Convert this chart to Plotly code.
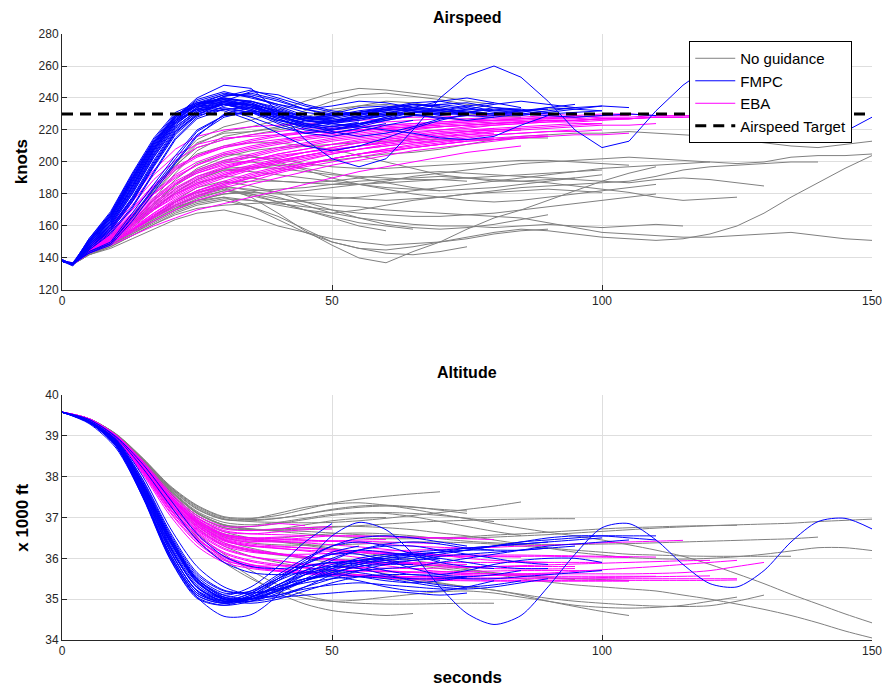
import plotly.graph_objects as go

# ---------------------------------------------------------------------------
# Time grids (seconds)
# ---------------------------------------------------------------------------
T_SPEED = [0, 2, 5, 9, 13, 17, 21, 25, 30, 35, 40, 45, 50, 55, 60, 65, 70, 75,
           80, 85, 90, 95, 100, 105, 110, 115, 120, 125, 130, 135, 140, 145, 150]
T_ALT = [0, 5, 10, 15, 20, 25, 30, 35, 40, 45, 50, 55, 60, 65, 70, 75, 80, 85,
         90, 95, 100, 105, 110, 115, 120, 125, 130, 135, 140, 145, 150]

AIRSPEED_TARGET = 230  # knots
TARGET_SPAN = [0, 150]

# ---------------------------------------------------------------------------
# Airspeed runs (knots), sampled on T_SPEED; each run stops where its list ends
# ---------------------------------------------------------------------------
speed_none = [
    [138, 136, 145, 153, 166, 183, 200, 214, 222, 226, 232, 238, 243, 246, 245, 243, 241, 238, 236],
    [138, 136, 145, 152, 164, 180, 197, 211, 219, 222, 226, 232, 238, 242, 243, 241, 239, 236, 234, 232, 233, 234],
    [138, 136, 144, 151, 162, 177, 193, 207, 216, 219, 221, 226, 231, 235, 238, 237, 234, 231, 229, 228],
    [138, 136, 143, 149, 157, 166, 175, 181, 184, 178, 168, 157, 148, 140, 137, 144, 150, 158, 165, 170, 176, 182, 188, 193, 197],
    [138, 136, 143, 150, 158, 166, 173, 178, 182, 180, 177, 175, 173, 172, 170, 169, 168, 167, 166, 165, 162, 159, 156, 155, 154, 153, 153, 154, 155, 156, 154, 152, 151],
    [138, 136, 143, 149, 157, 165, 172, 176, 178, 172, 164, 156, 150, 146, 145, 147, 150, 153, 156, 158, 157, 155, 153, 152, 151, 152, 155, 160, 168, 178, 187, 196, 204],
    [138, 136, 144, 151, 160, 171, 181, 189, 195, 196, 198, 199, 201, 203, 205, 206, 208, 211, 214, 216, 217, 218, 218, 219, 218, 217, 216, 214, 212, 210, 209, 211, 213],
    [138, 136, 143, 149, 157, 165, 173, 179, 184, 183, 181, 182, 184, 186, 188, 191, 193, 195, 197, 199, 200, 201, 202, 203, 202, 201, 200, 199, 200, 203, 204, 204, 205],
    [138, 136, 143, 148, 155, 163, 170, 175, 178, 176, 173, 170, 168, 170, 173, 176, 178, 180, 182, 184, 185, 186, 187, 188, 191, 195, 197, 198, 199, 200, 200],
    [138, 136, 144, 151, 161, 171, 180, 187, 191, 190, 188, 187, 188, 190, 192, 193, 194, 193, 192, 191, 190, 189, 188, 187, 189, 190, 189, 187, 185],
    [138, 136, 143, 149, 156, 164, 171, 176, 180, 182, 183, 184, 186, 188, 189, 190, 191, 190, 189, 188, 187, 185, 183, 181, 178, 176, 177, 178],
    [138, 136, 144, 152, 162, 174, 186, 195, 201, 203, 202, 199, 197, 196, 196, 197, 198, 199, 200, 201, 201, 200, 199, 198],
    [138, 136, 143, 149, 157, 166, 176, 184, 188, 185, 181, 175, 170, 165, 161, 159, 158, 159, 161, 164, 167],
    [138, 136, 142, 147, 154, 161, 168, 173, 176, 172, 166, 158, 150, 146, 143, 142, 144, 147],
    [138, 136, 143, 149, 156, 163, 170, 176, 180, 181, 180, 179, 178, 177, 176, 177, 178, 180, 181, 182, 183, 182, 181],
    [138, 136, 142, 147, 154, 161, 167, 171, 173, 174, 175, 176, 177, 178, 180, 182, 184, 186, 188, 190, 192, 194, 196, 197, 198, 199, 200],
    [138, 136, 144, 152, 163, 176, 189, 199, 205, 204, 200, 195, 190, 186, 183, 180, 178, 176, 175, 176, 178, 180, 182, 184, 186],
    [138, 136, 145, 153, 165, 180, 195, 205, 210, 212, 212, 210, 208, 204, 200, 196, 192, 190, 188, 188, 189, 190],
    [138, 136, 144, 151, 161, 173, 185, 194, 200, 200, 198, 196, 193, 190, 187, 184, 182],
    [138, 136, 142, 146, 152, 158, 164, 168, 170, 166, 160, 156, 152, 150, 148, 149, 150, 152, 155, 157, 158],
    [138, 136, 143, 149, 157, 166, 175, 181, 185, 182, 178, 173, 168, 165, 163, 161, 160, 160, 159, 160, 161, 160, 159, 160, 161, 160],
    [138, 136, 145, 154, 166, 182, 198, 209, 214, 217, 220, 223, 226, 228, 230, 230, 228, 226, 224],
    [138, 136, 143, 150, 159, 170, 181, 189, 195, 194, 192, 190, 188, 186, 184, 183, 182, 183, 184, 186, 188, 190, 192],
    [138, 136, 142, 148, 156, 164, 171, 177, 182, 179, 175, 170, 166, 162, 160, 158],
    [138, 136, 145, 154, 167, 183, 199, 212, 218, 219, 222, 228, 233, 235, 236, 234, 232, 230, 229, 228],
    [138, 136, 144, 151, 161, 172, 183, 191, 196, 197, 196, 194, 192, 191, 190, 189, 189, 188],
    [138, 136, 143, 149, 157, 166, 175, 182, 187, 188, 188, 187, 186, 186, 187, 188, 189, 190, 191, 192, 193, 194, 195],
    [138, 136, 143, 149, 157, 165, 173, 179, 183, 180, 175, 170, 165, 160, 157],
    [138, 136, 144, 152, 162, 174, 186, 196, 203, 207, 209, 210, 211, 212, 213, 214, 214, 214, 214, 215, 215],
    [138, 136, 143, 148, 155, 162, 169, 174, 177, 176, 174, 172, 170, 168, 167, 166, 166, 167, 168, 170, 172, 174, 176, 178, 180],
]

speed_fmpc = [
    [138, 136, 150, 166, 190, 212, 228, 240, 248, 246, 232, 214, 202, 197, 202, 220, 240, 254, 260, 253, 238, 220, 209, 213, 232, 248, 260, 258, 246, 232, 222, 219, 228],
    [138, 136, 152, 169, 193, 215, 231, 237, 240, 237, 231, 227, 230, 234, 235, 232, 229, 231, 234, 233, 231],
    [138, 137, 151, 167, 190, 212, 229, 238, 243, 241, 235, 229, 226, 229, 233, 236, 234, 231, 229, 232, 234, 233, 235],
    [139, 136, 149, 164, 187, 209, 227, 235, 236, 232, 226, 222, 225, 228, 231, 230, 227, 229],
    [138, 136, 148, 162, 183, 206, 225, 233, 238, 236, 229, 224, 220, 223, 228, 233, 236, 237, 234, 232],
    [138, 135, 147, 160, 180, 203, 222, 232, 236, 233, 227, 221, 218, 221, 224],
    [139, 136, 146, 158, 176, 198, 219, 230, 234, 231, 224, 218, 216, 219, 223, 226],
    [138, 136, 145, 156, 172, 194, 215, 228, 235, 238, 234, 228, 225, 227, 230, 232, 231, 229, 228, 230, 229, 228, 229, 230, 229],
    [138, 136, 148, 163, 185, 208, 226, 236, 240, 238, 232, 226, 224, 222, 220, 218, 215, 214, 216, 223, 229],
    [138, 136, 151, 166, 188, 210, 228, 239, 244, 240, 236, 233, 235, 238, 237, 234, 232, 235, 237],
    [138, 136, 149, 165, 189, 211, 228, 236, 238, 234, 228, 223, 219, 216, 218, 222, 227],
    [138, 136, 143, 149, 165, 183, 200, 217, 228, 232, 230, 227, 229, 231],
    [138, 137, 143, 148, 163, 181, 199, 216, 230, 234, 231, 226, 224, 226, 229, 231, 230],
    [139, 136, 147, 161, 181, 204, 223, 234, 241, 243, 239, 233, 229, 231, 234, 237, 238, 235, 232, 231, 234, 236],
    [138, 136, 150, 165, 187, 209, 226, 233, 232, 226, 218, 210, 207, 210, 215, 221, 226, 230],
    [138, 136, 146, 159, 178, 201, 221, 231, 237, 236, 231, 227, 229, 232, 234, 233, 231, 233, 236, 238, 236, 234, 235, 234],
    [138, 136, 150, 167, 191, 213, 229, 237, 239, 235, 230, 226, 228, 231, 233, 232],
    [138, 136, 148, 161, 182, 205, 224, 233, 236, 232, 225, 220, 218, 221],
    [138, 136, 152, 168, 192, 214, 230, 235, 233, 228, 222, 218, 220, 224, 227, 229, 228, 226, 228],
    [138, 136, 147, 159, 177, 199, 219, 229, 233, 231, 226, 223, 225, 229, 232],
    [138, 136, 144, 150, 168, 186, 204, 220, 229, 231, 228, 225, 226],
    [138, 136, 149, 163, 184, 207, 225, 234, 241, 245, 240, 235, 231, 228, 230, 234, 238, 240, 237, 234],
    [138, 136, 151, 167, 190, 212, 228, 236, 239, 236, 229, 223, 221, 223, 227, 231, 233, 232, 230, 229, 231, 233, 232],
    [138, 136, 146, 157, 175, 197, 217, 229, 238, 244, 242, 236, 232, 230, 233, 236, 235],
    [138, 136, 150, 165, 188, 210, 227, 236, 240, 237, 231, 226, 224, 227, 229],
    [138, 136, 149, 164, 186, 208, 226, 235, 239, 238, 233, 228, 226, 228, 231, 233, 232, 230],
    [138, 136, 147, 161, 182, 205, 224, 233, 237, 235, 230, 226, 227, 230, 232, 234, 233, 231, 230, 232, 233],
    [138, 136, 146, 158, 177, 200, 220, 231, 236, 236, 232, 228, 228, 231, 233, 232, 230, 231, 233, 232, 230, 231, 232],
    [138, 136, 148, 162, 184, 207, 225, 234, 238, 235, 229, 224, 222, 225],
    [138, 136, 150, 166, 189, 211, 228, 237, 242, 241, 236, 231, 229, 231, 234, 236, 235, 233, 232, 233],
    [138, 136, 145, 155, 171, 193, 214, 227, 233, 234, 230, 226, 223, 224, 226, 229, 230],
    [138, 136, 151, 168, 192, 213, 229, 236, 237, 233, 227, 222, 220, 222, 226, 229],
    [138, 136, 149, 163, 185, 208, 226, 236, 242, 242, 238, 233, 230, 230, 232, 235, 236, 234, 231, 230, 232, 234],
    [138, 136, 147, 160, 180, 203, 222, 232, 236, 234, 229, 224, 222, 224, 228, 231, 232, 231, 230],
    [138, 136, 146, 157, 175, 198, 218, 230, 236, 236, 232, 228, 227],
    [138, 136, 144, 149, 166, 184, 202, 219, 229, 232, 229, 226, 225, 227, 229],
]

speed_eba = [
    [138, 136, 148, 160, 177, 195, 208, 216, 220, 222, 223, 224, 225, 226, 227, 228, 228, 229, 229, 230, 230, 229, 230, 230, 229],
    [138, 136, 147, 158, 173, 189, 201, 209, 214, 217, 219, 221, 222, 224, 225, 226, 227, 227, 228, 228, 229, 228, 229],
    [138, 137, 146, 156, 170, 184, 195, 203, 209, 213, 216, 218, 220, 222, 223, 224, 225, 226, 226, 227, 227, 228],
    [138, 136, 146, 155, 167, 180, 190, 198, 205, 209, 212, 215, 217, 219, 221, 222, 224, 225, 226, 227, 228, 228, 229, 229],
    [138, 136, 145, 154, 165, 177, 187, 194, 200, 204, 208, 211, 214, 216, 218, 220, 222, 223, 224, 225, 226],
    [138, 136, 145, 153, 163, 174, 183, 190, 196, 201, 205, 208, 211, 214, 216, 218, 220, 221, 223, 224, 225, 226, 227, 227, 228, 228],
    [138, 137, 145, 152, 162, 172, 181, 188, 194, 198, 202, 206, 209, 212, 214, 216, 218, 219, 220, 221],
    [138, 136, 144, 151, 160, 170, 178, 185, 191, 196, 200, 204, 207, 210, 213, 215, 217, 219, 220, 221, 222, 223, 224],
    [138, 136, 144, 151, 159, 168, 176, 182, 188, 193, 197, 201, 205, 208, 211, 213, 215, 217, 218],
    [138, 136, 144, 150, 158, 166, 173, 179, 185, 190, 194, 198, 202, 205, 208, 211, 213, 215, 217, 218, 219, 220],
    [138, 136, 143, 149, 157, 165, 172, 178, 184, 188, 193, 197, 200, 203, 206, 209, 211, 213],
    [138, 136, 143, 149, 156, 163, 170, 176, 181, 186, 190, 194, 198, 201, 204, 207, 209, 211, 213, 215, 216],
    [138, 136, 143, 148, 154, 160, 165, 170, 174, 178, 182, 186, 190, 194, 197, 200, 203, 206, 208, 210],
    [138, 136, 146, 157, 171, 186, 197, 204, 209, 212, 214, 216, 218, 220, 221, 222, 223, 224, 225, 225, 226, 226, 227, 227, 228, 228, 229],
    [138, 136, 145, 154, 166, 178, 188, 195, 201, 205, 209, 212, 215, 217, 219, 221, 222, 223, 224, 225, 226, 226, 227, 227, 228],
    [138, 136, 147, 159, 175, 192, 204, 211, 215, 216, 217, 218, 219, 220, 221, 222, 223],
    [138, 136, 144, 152, 162, 173, 182, 189, 196, 200, 203, 206, 209, 212, 214, 216, 218, 219, 221],
    [138, 136, 144, 150, 158, 168, 177, 184, 190, 195, 199, 202, 205, 208, 210, 212, 214, 216, 217, 218, 219, 219, 220],
    [138, 136, 143, 149, 157, 167, 175, 182, 187, 192, 196, 199, 202, 205, 207, 209, 211, 213, 214, 215, 216, 217, 217, 218],
    [138, 136, 146, 156, 168, 181, 192, 200, 206, 210, 213, 216, 218, 220, 222, 223, 224, 225, 226, 226, 227, 227, 228, 228, 229, 229, 229, 230],
    [138, 136, 144, 151, 161, 171, 180, 186, 192, 196, 200, 203, 206, 208, 210, 212, 213, 214, 215, 216, 217],
    [138, 136, 145, 153, 164, 176, 186, 193, 198, 201, 204, 206, 208, 210, 212],
    [138, 136, 146, 156, 170, 185, 196, 204, 210, 214, 217, 219, 221, 222, 223, 224, 225, 226, 227, 227, 228, 228],
    [138, 136, 145, 154, 164, 176, 186, 193, 199, 203, 207, 210, 213, 215, 217, 219, 220, 222, 223, 224, 225, 225, 226, 227],
    [138, 136, 144, 152, 161, 171, 180, 187, 193, 197, 201, 204, 207, 210, 212, 214, 216, 218, 219, 220],
    [138, 136, 144, 151, 160, 170, 179, 186, 192, 197, 201, 204, 207, 210, 212, 214, 216, 217, 219, 220, 221, 222, 223, 223, 224],
    [138, 136, 143, 149, 157, 166, 174, 180, 186, 190, 194, 198, 202, 205, 208, 210, 212, 214, 215],
    [138, 136, 145, 153, 163, 175, 184, 191, 197, 201, 205, 208, 211, 213, 215, 217, 219, 220, 221, 222, 223, 224, 224],
    [138, 136, 144, 150, 158, 167, 175, 181, 186, 191, 195, 199, 202, 205, 207, 209, 211, 213, 214, 215, 216],
    [138, 136, 145, 155, 167, 180, 191, 198, 204, 208, 211, 214, 216, 218, 220, 221, 222, 223, 224, 225, 226, 226, 227, 227, 228, 228, 228],
]

# ---------------------------------------------------------------------------
# Altitude runs (x 1000 ft), sampled on T_ALT
# ---------------------------------------------------------------------------
alt_none = [
    [39.58, 39.42, 39.05, 38.45, 37.78, 37.30, 37.02, 36.98, 37.05, 37.20, 37.35, 37.45, 37.52, 37.58, 37.63],
    [39.58, 39.42, 39.04, 38.43, 37.75, 37.25, 36.97, 36.90, 36.88, 36.87, 36.88, 36.92, 36.98, 37.05, 37.12, 37.20, 37.28, 37.38],
    [39.58, 39.42, 39.04, 38.42, 37.73, 37.22, 36.95, 36.92, 36.98, 37.08, 37.18, 37.25, 37.28, 37.25, 37.20, 37.16],
    [39.58, 39.42, 39.04, 38.42, 37.72, 37.20, 36.95, 36.97, 37.10, 37.25, 37.33, 37.36, 37.30, 37.20, 37.08, 36.97, 36.85, 36.74, 36.64, 36.55, 36.45, 36.33, 36.20, 36.05, 35.85, 35.62, 35.38, 35.12, 34.88, 34.64, 34.42],
    [39.58, 39.41, 39.00, 38.35, 37.60, 37.00, 36.65, 36.50, 36.42, 36.35, 36.25, 36.15, 36.05, 35.95, 35.85, 35.75, 35.62, 35.50, 35.42, 35.35, 35.30, 35.25, 35.20, 35.10, 35.00, 34.88, 34.75, 34.60, 34.42, 34.22, 34.05],
    [39.58, 39.41, 39.02, 38.38, 37.65, 37.10, 36.80, 36.70, 36.68, 36.66, 36.62, 36.58, 36.55, 36.52, 36.50, 36.50, 36.52, 36.55, 36.58, 36.62, 36.66, 36.70, 36.74, 36.77, 36.80, 36.82, 36.84, 36.86, 36.90, 36.93, 36.96],
    [39.58, 39.41, 39.01, 38.36, 37.62, 37.05, 36.75, 36.70, 36.72, 36.75, 36.78, 36.78, 36.75, 36.70, 36.62, 36.55, 36.45, 36.35, 36.25, 36.15, 36.08, 36.02, 35.99, 35.98, 36.00, 36.04, 36.10, 36.18, 36.26, 36.26, 36.19],
    [39.58, 39.40, 38.98, 38.30, 37.50, 36.88, 36.52, 36.38, 36.33, 36.32, 36.33, 36.35, 36.38, 36.40, 36.40, 36.38, 36.35, 36.30, 36.25, 36.20, 36.15, 36.10, 36.08, 36.06, 36.05, 36.05, 36.05, 36.05],
    [39.58, 39.41, 39.02, 38.40, 37.68, 37.12, 36.82, 36.72, 36.66, 36.60, 36.55, 36.50, 36.48, 36.48, 36.50, 36.53, 36.57, 36.60, 36.64, 36.68, 36.72, 36.75, 36.77, 36.79, 36.80, 36.81],
    [39.58, 39.40, 38.96, 38.25, 37.42, 36.75, 36.30, 36.05, 35.90, 35.78, 35.68, 35.60, 35.52, 35.45, 35.38, 35.30, 35.22, 35.12, 35.02, 34.95, 34.90, 34.86, 34.83, 34.82, 34.84, 34.95, 35.10],
    [39.58, 39.40, 38.97, 38.28, 37.48, 36.85, 36.45, 36.25, 36.12, 36.00, 35.88, 35.75, 35.62, 35.50, 35.40, 35.30, 35.22, 35.10, 34.95, 34.82, 34.70, 34.60],
    [39.58, 39.40, 38.95, 38.22, 37.35, 36.62, 36.10, 35.70, 35.35, 35.10, 34.95, 34.90, 34.88, 34.88, 34.89, 34.90, 34.90],
    [39.58, 39.39, 38.93, 38.18, 37.28, 36.52, 35.98, 35.55, 35.15, 34.88, 34.72, 34.65, 34.60, 34.65],
    [39.58, 39.41, 39.02, 38.40, 37.68, 37.12, 36.82, 36.72, 36.70, 36.72, 36.76, 36.80, 36.84, 36.88, 36.91, 36.93, 36.95, 36.96, 36.97, 36.97],
    [39.58, 39.40, 38.98, 38.30, 37.50, 36.90, 36.55, 36.45, 36.40, 36.32, 36.22, 36.10, 35.98, 35.85, 35.75, 35.68, 35.62, 35.57, 35.53, 35.50, 35.48, 35.46],
    [39.58, 39.41, 39.03, 38.42, 37.70, 37.15, 36.88, 36.82, 36.88, 36.98, 37.08, 37.12, 37.10, 37.02, 36.90, 36.78, 36.66, 36.56],
    [39.58, 39.42, 39.04, 38.44, 37.76, 37.28, 37.00, 36.95, 36.98, 37.08, 37.20, 37.28, 37.30, 37.26, 37.18, 37.10],
    [39.58, 39.39, 38.92, 38.15, 37.22, 36.45, 35.90, 35.50, 35.20, 35.02, 34.95, 34.98, 35.05, 35.12, 35.18, 35.20, 35.15, 35.05, 34.95, 34.85, 34.80, 34.78, 34.80, 34.85, 34.95, 35.05],
    [39.58, 39.41, 39.00, 38.34, 37.56, 36.95, 36.60, 36.50, 36.50, 36.55, 36.60, 36.62, 36.60, 36.55, 36.48, 36.42, 36.38, 36.35, 36.34, 36.34, 36.35, 36.36, 36.38, 36.40, 36.42, 36.44, 36.46, 36.48, 36.52],
    [39.58, 39.41, 39.01, 38.37, 37.62, 37.05, 36.75, 36.68, 36.72, 36.82, 36.92, 36.98, 37.00],
    [39.58, 39.41, 39.02, 38.39, 37.66, 37.10, 36.82, 36.78, 36.85, 36.95, 37.05, 37.10, 37.12, 37.10, 37.05, 36.98, 36.90],
    [39.58, 39.40, 38.97, 38.27, 37.45, 36.80, 36.38, 36.18, 36.08, 36.02, 35.98, 35.95, 35.90, 35.85, 35.80, 35.72, 35.65, 35.58, 35.52, 35.48],
]

alt_fmpc = [
    [39.58, 39.30, 38.70, 37.50, 36.05, 35.05, 34.58, 34.62, 35.10, 35.85, 36.55, 36.88, 36.70, 36.10, 35.30, 34.65, 34.38, 34.60, 35.30, 36.10, 36.75, 36.85, 36.45, 35.85, 35.38, 35.30, 35.70, 36.40, 36.90, 36.98, 36.72],
    [39.58, 39.32, 38.80, 37.70, 36.40, 35.50, 35.10, 35.30, 35.80, 36.40, 36.85],
    [39.58, 39.34, 38.80, 37.60, 36.20, 35.20, 34.90, 35.00, 35.30, 35.60, 35.80, 35.90, 35.95, 36.00, 36.10, 36.20, 36.30, 36.40, 36.50, 36.55, 36.55, 36.50, 36.45],
    [39.58, 39.33, 38.78, 37.55, 36.10, 35.15, 34.95, 35.15, 35.50, 35.80, 35.90, 35.85, 35.70, 35.60, 35.60, 35.70, 35.85, 35.95, 36.00, 36.00, 35.90],
    [39.58, 39.35, 38.85, 37.75, 36.40, 35.40, 35.05, 35.20, 35.60, 36.00, 36.30, 36.40, 36.30, 36.10, 35.90, 35.80, 35.75],
    [39.58, 39.34, 38.82, 37.70, 36.30, 35.30, 35.00, 35.05, 35.30, 35.50, 35.60, 35.55, 35.45, 35.40, 35.45, 35.55],
    [39.58, 39.36, 38.90, 37.90, 36.60, 35.60, 35.20, 35.15, 35.25, 35.40, 35.50, 35.55, 35.50, 35.40, 35.30, 35.25, 35.30, 35.40, 35.50],
    [39.58, 39.33, 38.75, 37.50, 36.00, 35.05, 34.85, 34.95, 35.20, 35.45, 35.60, 35.70, 35.75, 35.80, 35.90, 36.00, 36.10, 36.20, 36.30, 36.35, 36.40, 36.45],
    [39.58, 39.35, 38.85, 37.80, 36.50, 35.50, 35.10, 35.00, 35.10, 35.25, 35.35, 35.40, 35.35, 35.30, 35.25, 35.25],
    [39.58, 39.37, 38.92, 38.00, 36.75, 35.80, 35.30, 35.10, 35.05, 35.10, 35.15, 35.20, 35.20, 35.15, 35.10, 35.15],
    [39.58, 39.36, 38.88, 37.85, 36.55, 35.55, 35.15, 35.20, 35.50, 35.85, 36.10, 36.20, 36.15, 36.05, 35.95],
    [39.58, 39.34, 38.80, 37.65, 36.25, 35.30, 34.95, 35.00, 35.25, 35.60, 35.95, 36.20, 36.35, 36.40, 36.35, 36.25, 36.20],
    [39.58, 39.40, 38.98, 38.30, 37.45, 36.60, 36.05, 35.80, 35.75, 35.80, 35.90, 35.95, 36.00, 36.05],
    [39.58, 39.40, 38.96, 38.20, 37.30, 36.45, 35.90, 35.65, 35.60, 35.65, 35.75, 35.85, 35.95, 36.05, 36.15, 36.25, 36.30, 36.35, 36.40],
    [39.58, 39.35, 38.84, 37.75, 36.45, 35.45, 35.00, 34.90, 35.00, 35.20, 35.40, 35.55, 35.60, 35.60, 35.55, 35.50, 35.50, 35.55, 35.60, 35.65, 35.70],
    [39.58, 39.33, 38.76, 37.55, 36.05, 35.10, 34.90, 35.10, 35.50, 35.95, 36.30, 36.50, 36.55, 36.50, 36.40, 36.30],
    [39.58, 39.36, 38.88, 37.85, 36.55, 35.50, 35.05, 34.95, 35.05, 35.30, 35.60, 35.85, 36.00, 36.10, 36.15, 36.20, 36.30, 36.40, 36.45, 36.50, 36.55, 36.55, 36.55],
    [39.58, 39.34, 38.80, 37.65, 36.20, 35.20, 34.95, 35.10, 35.45, 35.70, 35.80, 35.75, 35.60, 35.45, 35.35, 35.30, 35.35, 35.45],
    [39.58, 39.35, 38.85, 37.80, 36.50, 35.45, 35.00, 34.95, 35.15, 35.45, 35.75, 35.95, 36.05, 36.10, 36.15, 36.20, 36.20, 36.20, 36.25],
    [39.58, 39.34, 38.80, 37.70, 36.30, 35.30, 34.95, 35.05, 35.35, 35.70, 36.00, 36.20, 36.30, 36.30, 36.20, 36.10, 36.00, 35.90, 35.85],
    [39.58, 39.33, 38.76, 37.52, 36.05, 35.10, 34.90, 35.05, 35.35, 35.65, 35.85, 35.95, 36.00],
    [39.58, 39.35, 38.83, 37.72, 36.35, 35.35, 35.00, 35.00, 35.20, 35.45, 35.65, 35.80, 35.90, 35.95, 36.00],
    [39.58, 39.34, 38.79, 37.62, 36.18, 35.22, 34.98, 35.15, 35.55, 35.90, 36.10, 36.10, 35.95, 35.75, 35.60, 35.55, 35.60, 35.70],
    [39.58, 39.36, 38.87, 37.82, 36.50, 35.48, 35.05, 35.00, 35.10, 35.30, 35.50, 35.70, 35.85, 35.95, 36.05, 36.10, 36.15, 36.20, 36.25, 36.30],
    [39.58, 39.33, 38.74, 37.48, 35.98, 35.02, 34.85, 35.05, 35.45, 35.85, 36.15, 36.30],
    [39.58, 39.35, 38.86, 37.80, 36.45, 35.42, 35.00, 35.05, 35.30, 35.50, 35.55, 35.45, 35.30, 35.20, 35.20, 35.30, 35.45],
    [39.58, 39.34, 38.80, 37.68, 36.28, 35.28, 34.95, 35.00, 35.20, 35.45, 35.70, 35.90, 36.05, 36.15, 36.20, 36.25, 36.30, 36.35, 36.40, 36.45, 36.50],
    [39.58, 39.36, 38.90, 37.92, 36.65, 35.65, 35.22, 35.15, 35.25, 35.45, 35.65, 35.80, 35.85, 35.85],
    [39.58, 39.33, 38.77, 37.58, 36.12, 35.15, 34.92, 35.05, 35.35, 35.60, 35.70, 35.65, 35.55, 35.50, 35.50, 35.55],
    [39.58, 39.35, 38.84, 37.76, 36.42, 35.42, 35.02, 35.02, 35.22, 35.50, 35.80, 36.00, 36.10, 36.10, 36.00, 35.90, 35.80, 35.75, 35.75],
]

alt_eba = [
    [39.58, 39.42, 39.02, 38.38, 37.62, 37.05, 36.78, 36.78, 36.85, 36.80],
    [39.58, 39.42, 39.00, 38.33, 37.55, 36.95, 36.65, 36.60, 36.65, 36.70, 36.72],
    [39.58, 39.41, 38.98, 38.28, 37.48, 36.85, 36.50, 36.40, 36.45, 36.50, 36.55, 36.55, 36.53, 36.50, 36.50, 36.50],
    [39.58, 39.41, 38.97, 38.25, 37.42, 36.78, 36.42, 36.30, 36.28, 36.25, 36.20, 36.15, 36.10, 36.08, 36.05, 36.05, 36.05, 36.05, 36.05, 36.04, 36.03, 36.02],
    [39.58, 39.40, 38.96, 38.22, 37.38, 36.72, 36.35, 36.20, 36.10, 36.00, 35.95, 35.92, 35.90, 35.90, 35.90, 35.90, 35.90, 35.90, 35.90, 35.90, 35.90],
    [39.58, 39.40, 38.95, 38.20, 37.33, 36.65, 36.25, 36.05, 35.95, 35.85, 35.80, 35.78, 35.76, 35.75, 35.76, 35.78, 35.80, 35.82, 35.84, 35.86, 35.88, 35.90, 35.92, 35.94, 35.95],
    [39.58, 39.40, 38.94, 38.17, 37.28, 36.58, 36.15, 35.95, 35.85, 35.78, 35.72, 35.70, 35.68, 35.67, 35.67, 35.68, 35.69, 35.70, 35.70, 35.70, 35.70],
    [39.58, 39.39, 38.93, 38.14, 37.22, 36.50, 36.06, 35.85, 35.75, 35.68, 35.62, 35.58, 35.55, 35.52, 35.50, 35.50, 35.50, 35.50, 35.50, 35.50, 35.50, 35.50, 35.50, 35.50, 35.50, 35.50],
    [39.58, 39.39, 38.92, 38.10, 37.15, 36.42, 35.98, 35.78, 35.70, 35.65, 35.60, 35.56, 35.52, 35.48, 35.46, 35.45, 35.44, 35.44, 35.44, 35.44, 35.44, 35.44],
    [39.58, 39.41, 38.99, 38.30, 37.50, 36.90, 36.56, 36.45, 36.42, 36.38, 36.33, 36.28, 36.22, 36.15, 36.08, 36.00, 35.95, 35.92, 35.90],
    [39.58, 39.41, 38.98, 38.27, 37.45, 36.82, 36.46, 36.32, 36.25, 36.18, 36.10, 36.02, 35.95, 35.88, 35.82, 35.78, 35.75, 35.74, 35.74, 35.75],
    [39.58, 39.40, 38.96, 38.23, 37.40, 36.75, 36.38, 36.22, 36.12, 36.05, 35.98, 35.90, 35.82, 35.74, 35.68, 35.64, 35.62, 35.62, 35.64, 35.68, 35.72, 35.76, 35.80, 35.85, 35.90, 35.95],
    [39.58, 39.40, 38.95, 38.20, 37.35, 36.68, 36.30, 36.15, 36.10, 36.10, 36.12, 36.15, 36.18, 36.20, 36.22, 36.25, 36.27, 36.30, 36.32, 36.35, 36.38, 36.40, 36.42, 36.44],
    [39.58, 39.41, 39.00, 38.32, 37.55, 36.98, 36.68, 36.60, 36.58, 36.56, 36.55, 36.54, 36.53, 36.52, 36.50, 36.48, 36.46],
    [39.58, 39.39, 38.93, 38.12, 37.20, 36.47, 36.02, 35.80, 35.70, 35.62, 35.58, 35.56, 35.55, 35.55, 35.56, 35.57, 35.58, 35.60, 35.60],
    [39.58, 39.39, 38.92, 38.08, 37.12, 36.38, 35.95, 35.82, 35.82, 35.85, 35.87, 35.88, 35.88, 35.87, 35.86, 35.85],
    [39.58, 39.40, 38.94, 38.16, 37.26, 36.55, 36.12, 35.92, 35.82, 35.76, 35.72, 35.69, 35.67, 35.65, 35.64, 35.63, 35.62, 35.62, 35.62, 35.62, 35.62, 35.62, 35.63, 35.65, 35.70, 35.80, 35.90],
    [39.58, 39.41, 38.99, 38.30, 37.52, 36.92, 36.58, 36.47, 36.45, 36.44, 36.43, 36.42, 36.40, 36.38, 36.36],
    [39.58, 39.40, 38.97, 38.25, 37.43, 36.80, 36.44, 36.30, 36.24, 36.20, 36.17, 36.14, 36.12, 36.10, 36.09, 36.08, 36.08, 36.08, 36.07, 36.06, 36.05, 36.04, 36.03],
    [39.58, 39.38, 38.90, 38.05, 37.05, 36.30, 35.90, 35.75, 35.68, 35.64, 35.60, 35.56, 35.52, 35.50, 35.48, 35.47, 35.46, 35.46, 35.46, 35.46, 35.46, 35.46, 35.46, 35.46, 35.46, 35.47],
    [39.58, 39.41, 39.01, 38.35, 37.58, 37.00, 36.72, 36.68, 36.72, 36.75, 36.78],
    [39.58, 39.41, 38.99, 38.29, 37.49, 36.87, 36.53, 36.42, 36.40, 36.40, 36.42, 36.45, 36.46],
    [39.58, 39.40, 38.96, 38.22, 37.36, 36.70, 36.33, 36.18, 36.10, 36.04, 35.98, 35.93, 35.88, 35.84, 35.82, 35.80, 35.80, 35.80, 35.80, 35.80],
    [39.58, 39.40, 38.95, 38.19, 37.31, 36.62, 36.22, 36.04, 35.94, 35.86, 35.80, 35.75, 35.70, 35.66, 35.62, 35.60, 35.58, 35.57, 35.56, 35.56, 35.56, 35.56, 35.56],
    [39.58, 39.41, 38.98, 38.28, 37.47, 36.85, 36.48, 36.35, 36.30, 36.26, 36.22, 36.18, 36.14, 36.10, 36.07, 36.05, 36.04, 36.03],
    [39.58, 39.39, 38.93, 38.13, 37.20, 36.48, 36.05, 35.84, 35.74, 35.68, 35.64, 35.60, 35.57, 35.55, 35.53, 35.52, 35.52, 35.52, 35.52, 35.52, 35.53, 35.54, 35.55, 35.56, 35.57],
    [39.58, 39.41, 39.00, 38.31, 37.52, 36.93, 36.60, 36.50, 36.48, 36.45, 36.42, 36.38, 36.34, 36.30, 36.27, 36.25],
    [39.58, 39.41, 38.99, 38.30, 37.50, 36.90, 36.58, 36.50, 36.52, 36.55],
]

# ---------------------------------------------------------------------------
# Styling
# ---------------------------------------------------------------------------
GREY = "#808080"
BLUE = "#0000ff"
MAGENTA = "#ff00ff"
FONT = "Liberation Sans, Arial, Helvetica, sans-serif"
AXIS_DARK = "#262626"
GRID = "#dedede"

fig = go.Figure()


def add_runs(runs, t_grid, color, name, rank, xaxis, yaxis, legend, shape):
    for i, vals in enumerate(runs):
        n = min(len(vals), len(t_grid))
        fig.add_trace(go.Scatter(
            x=t_grid[:n], y=vals[:n], mode="lines",
            line=dict(color=color, width=1, shape=shape, smoothing=0.8),
            name=name, legendrank=rank,
            showlegend=(legend and i == 0),
            xaxis=xaxis, yaxis=yaxis, hoverinfo="skip",
        ))


# Airspeed panel
add_runs(speed_none, T_SPEED, GREY, "No guidance", 1, "x", "y", True, "linear")
add_runs(speed_eba, T_SPEED, MAGENTA, "EBA", 3, "x", "y", True, "linear")
add_runs(speed_fmpc, T_SPEED, BLUE, "FMPC", 2, "x", "y", True, "linear")
fig.add_trace(go.Scatter(
    x=TARGET_SPAN, y=[AIRSPEED_TARGET] * len(TARGET_SPAN), mode="lines",
    line=dict(color="black", width=3, dash="11px,7px"),
    name="Airspeed Target", legendrank=4, xaxis="x", yaxis="y", hoverinfo="skip",
))

# Altitude panel
add_runs(alt_none, T_ALT, GREY, "No guidance", 1, "x2", "y2", False, "spline")
add_runs(alt_eba, T_ALT, MAGENTA, "EBA", 3, "x2", "y2", False, "spline")
add_runs(alt_fmpc, T_ALT, BLUE, "FMPC", 2, "x2", "y2", False, "spline")

axis_common = dict(
    showgrid=True, gridcolor=GRID, gridwidth=1,
    showline=True, linecolor=AXIS_DARK, linewidth=1,
    ticks="inside", ticklen=5, tickcolor=AXIS_DARK,
    tickfont=dict(family=FONT, size=12, color=AXIS_DARK),
    ticklabeloverflow="allow",
    zeroline=False, mirror=False,
)

fig.update_layout(
    autosize=False,
    width=893, height=688,
    margin=dict(l=62, r=11, t=34, b=48),
    paper_bgcolor="white", plot_bgcolor="white",
    font=dict(family=FONT, color="black"),
    xaxis=dict(domain=[0, 1], range=[0, 150], tickvals=[0, 50, 100, 150], anchor="y", **axis_common),
    yaxis=dict(domain=[0.5776, 1], range=[120, 280], dtick=20, anchor="x", **axis_common),
    xaxis2=dict(domain=[0, 1], range=[0, 150], tickvals=[0, 50, 100, 150], anchor="y2", **axis_common),
    yaxis2=dict(domain=[0, 0.4043], range=[34, 40], dtick=1, anchor="x2", **axis_common),
    showlegend=True,
    legend=dict(
        x=0.7744, y=0.9884, xanchor="left", yanchor="top",
        bgcolor="white", bordercolor="black", borderwidth=1,
        font=dict(family=FONT, size=15, color="black"),
        itemwidth=40, traceorder="normal",
    ),
    annotations=[
        dict(text="<b>Airspeed</b>", x=0.5, y=1.028, xref="paper", yref="paper",
             showarrow=False, font=dict(size=16, family=FONT), xanchor="center", yanchor="middle"),
        dict(text="<b>Altitude</b>", x=0.5, y=0.4406, xref="paper", yref="paper",
             showarrow=False, font=dict(size=16, family=FONT), xanchor="center", yanchor="middle"),
        dict(text="<b>knots</b>", x=-0.049, y=0.7888, xref="paper", yref="paper", textangle=-90,
             showarrow=False, font=dict(size=17, family=FONT), xanchor="center", yanchor="middle"),
        dict(text="<b>x 1000 ft</b>", x=-0.049, y=0.2022, xref="paper", yref="paper", textangle=-90,
             showarrow=False, font=dict(size=17, family=FONT), xanchor="center", yanchor="middle"),
        dict(text="<b>seconds</b>", x=0.5, y=-0.0627, xref="paper", yref="paper",
             showarrow=False, font=dict(size=17, family=FONT), xanchor="center", yanchor="middle"),
    ],
)

fig.write_html("out.html")
